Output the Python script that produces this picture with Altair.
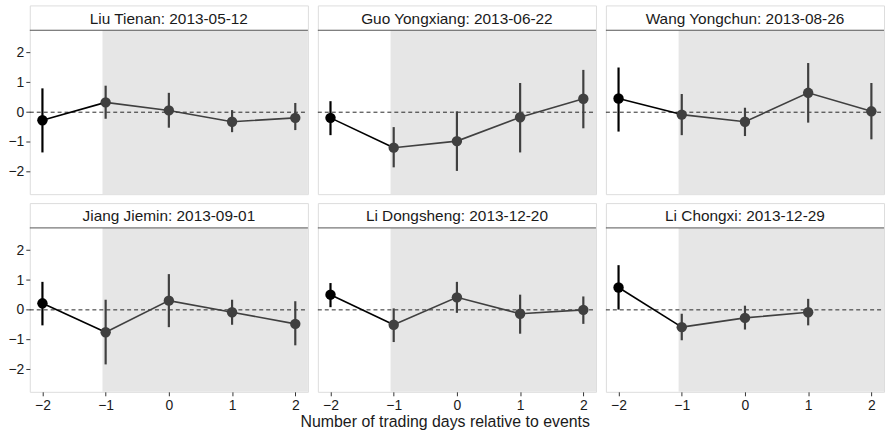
import altair as alt
import pandas as pd

# Event panels (official name and announcement date)
panels = [
    "Liu Tienan: 2013-05-12",
    "Guo Yongxiang: 2013-06-22",
    "Wang Yongchun: 2013-08-26",
    "Jiang Jiemin: 2013-09-01",
    "Li Dongsheng: 2013-12-20",
    "Li Chongxi: 2013-12-29",
]

days = [-2, -1, 0, 1, 2]

# Point estimates per panel, one value per trading day (None = not available)
estimates = [
    [-0.27, 0.33, 0.06, -0.32, -0.19],
    [-0.19, -1.19, -0.97, -0.17, 0.45],
    [0.46, -0.08, -0.32, 0.65, 0.03],
    [0.22, -0.75, 0.31, -0.08, -0.47],
    [0.51, -0.50, 0.42, -0.13, 0.00],
    [0.75, -0.58, -0.27, -0.08, None],
]

# Lower and upper interval bounds
lower = [
    [-1.35, -0.22, -0.52, -0.67, -0.60],
    [-0.77, -1.85, -1.97, -1.35, -0.54],
    [-0.65, -0.77, -0.80, -0.35, -0.91],
    [-0.52, -1.83, -0.58, -0.50, -1.19],
    [0.09, -1.08, -0.10, -0.80, -0.47],
    [0.01, -1.02, -0.66, -0.52, None],
]
upper = [
    [0.80, 0.89, 0.65, 0.07, 0.31],
    [0.37, -0.50, 0.03, 0.98, 1.42],
    [1.50, 0.61, 0.15, 1.65, 0.98],
    [0.94, 0.34, 1.20, 0.34, 0.29],
    [0.90, 0.05, 0.94, 0.51, 0.45],
    [1.50, -0.13, 0.14, 0.37, None],
]

# Event window shading starts just before day -1
SHADE_START = -1.05
X_DOMAIN = [-2.2, 2.2]
Y_PLOT = [-2.75, 2.75]
STRIP_TOP = 3.583  # extra room above the plot used for the panel label strip
STRIP_MID = (Y_PLOT[1] + STRIP_TOP) / 2

FONT = "Liberation Sans"
DARK = "#404040"
TEXT = "#1a1a1a"

HIDDEN_AXIS = dict(labels=False, ticks=False, domain=False, grid=False, title=None)


def panel_frame(name, est, lo, hi):
    rows = []
    for d, e, l, h in zip(days, est, lo, hi):
        if e is None:
            continue
        rows.append({"panel": name, "day": d, "est": e, "lo": l, "hi": h,
                     "phase": "pre" if d < -1 else "post"})
    return pd.DataFrame(rows)


def make_panel(i):
    df = panel_frame(panels[i], estimates[i], lower[i], upper[i])
    show_y = i % 3 == 0
    show_x = i >= 3

    if show_x:
        x_axis = alt.Axis(values=days, format="d", title=None, grid=False, domain=False,
                          tickSize=4, labelPadding=3, tickColor="#333333",
                          labelColor=TEXT, labelFontSize=14, labelFont=FONT)
    else:
        x_axis = alt.Axis(**HIDDEN_AXIS)
    if show_y:
        y_axis = alt.Axis(values=[-2, -1, 0, 1, 2], format="d", title=None, grid=False,
                          domain=False, tickSize=4, labelPadding=2, tickColor="#333333",
                          labelColor=TEXT, labelFontSize=14, labelFont=FONT,
                          minExtent=24)
    else:
        y_axis = alt.Axis(**HIDDEN_AXIS)

    x_scale = alt.Scale(domain=X_DOMAIN, nice=False, zero=False)
    y_scale = alt.Scale(domain=[Y_PLOT[0], STRIP_TOP], nice=False, zero=False)

    base = alt.Chart(df).encode(x=alt.X("day:Q", scale=x_scale, axis=x_axis))
    one_row = alt.datum.day == -2

    shade = base.mark_rect(color="#e6e6e6").encode(
        x=alt.datum(SHADE_START),
        x2=alt.datum(X_DOMAIN[1]),
        y=alt.Y("y0:Q", scale=y_scale, axis=y_axis),
        y2="y1:Q",
    ).transform_filter(one_row).transform_calculate(y0=str(Y_PLOT[0]), y1=str(Y_PLOT[1]))

    zero_line = base.mark_rule(color="#111111", strokeDash=[4, 3], strokeWidth=0.9).encode(
        x=alt.datum(X_DOMAIN[0]), x2=alt.datum(X_DOMAIN[1]), y=alt.datum(0),
    ).transform_filter(one_row)

    strip_line = base.mark_rule(color="#555555", strokeWidth=1).encode(
        x=alt.datum(X_DOMAIN[0]), x2=alt.datum(X_DOMAIN[1]), y=alt.datum(Y_PLOT[1]),
    ).transform_filter(one_row)

    strip_text = base.mark_text(font=FONT, fontSize=15.5, color=TEXT, dy=1).encode(
        x=alt.datum(0), y=alt.datum(STRIP_MID), text="panel:N",
    ).transform_filter(one_row)

    phase_color = alt.Color("phase:N", scale=alt.Scale(domain=["pre", "post"],
                                                         range=["black", DARK]),
                            legend=None)

    bars = base.mark_rule(strokeWidth=2.2).encode(y="lo:Q", y2="hi:Q", color=phase_color)

    line_pre = base.mark_line(color="black", strokeWidth=1.6).encode(
        y="est:Q").transform_filter(alt.datum.day <= -1)
    line_post = base.mark_line(color=DARK, strokeWidth=1.6).encode(
        y="est:Q").transform_filter(alt.datum.day >= -1)

    points = base.mark_point(filled=True, opacity=1, size=110).encode(
        y="est:Q", color=phase_color)

    return alt.layer(
        shade, zero_line, strip_line, bars, line_pre, line_post, points, strip_text,
    ).properties(width=280, height=190)


chart = alt.concat(
    *[make_panel(i) for i in range(6)],
    columns=3,
    spacing={"row": 7, "column": 8},
).properties(
    title=alt.TitleParams(
        "Number of trading days relative to events",
        orient="bottom", anchor="middle", font=FONT, fontSize=16,
        fontWeight="normal", color=TEXT, offset=1,
    ),
    padding={"left": 5, "top": 3, "right": 3, "bottom": 2},
).configure_view(
    stroke="#555555", strokeWidth=1, fill="white",
).configure(background="white")

chart.save("out.html", embed_options={"renderer": "svg", "actions": False})
